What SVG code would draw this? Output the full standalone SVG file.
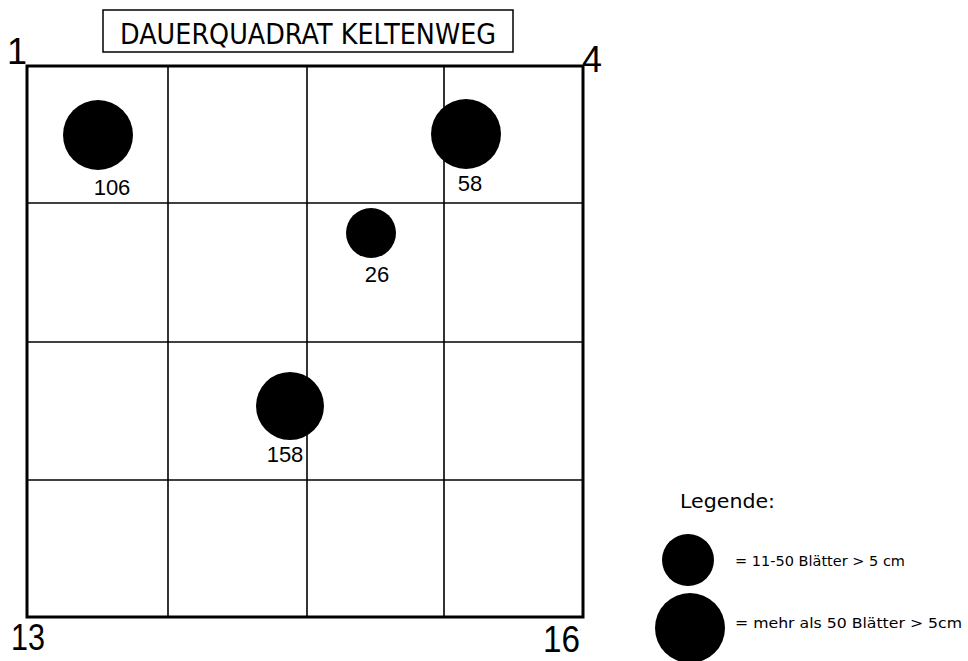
<svg xmlns="http://www.w3.org/2000/svg" width="968" height="661" viewBox="0 0 968 661">
<style>
.grid{stroke:#000;stroke-width:1.6;fill:none}
.frame{stroke:#000;stroke-width:3;fill:none}
.dot{fill:#000}
.num{font-family:"Liberation Sans",Arial,sans-serif;font-size:22px;fill:#000}
.corner{font-family:"Liberation Sans",Arial,sans-serif;font-size:36px;fill:#000}
.leg{font-family:"DejaVu Sans",sans-serif;font-size:14.5px;fill:#000}
</style>
<rect width="968" height="661" fill="#fff"/>
<g id="title">
<rect x="103" y="10" width="410" height="42" fill="#fff" stroke="#000" stroke-width="1.5"/>
<text x="308" y="44" text-anchor="middle" font-family="DejaVu Sans, sans-serif" font-size="29" textLength="376" lengthAdjust="spacingAndGlyphs">DAUERQUADRAT KELTENWEG</text>
</g>
<g id="connectors">
<line class="grid" x1="168" y1="66" x2="168" y2="617"/>
<line class="grid" x1="307" y1="66" x2="307" y2="617"/>
<line class="grid" x1="444" y1="66" x2="444" y2="617"/>
<line class="grid" x1="27" y1="203" x2="583" y2="203"/>
<line class="grid" x1="27" y1="342" x2="583" y2="342"/>
<line class="grid" x1="27" y1="480" x2="583" y2="480"/>
<rect class="frame" x="27" y="66" width="556" height="551"/>
</g>
<g id="corners">
<text class="corner" x="7" y="64">1</text>
<text class="corner" x="582" y="72" textLength="20" lengthAdjust="spacingAndGlyphs">4</text>
<text class="corner" x="11" y="650" textLength="34" lengthAdjust="spacingAndGlyphs">13</text>
<text class="corner" x="543" y="652" textLength="37" lengthAdjust="spacingAndGlyphs">16</text>
</g>
<g id="n106"><circle class="dot" cx="98" cy="135" r="35"/><text class="num" x="112" y="195" text-anchor="middle">106</text></g>
<g id="n58"><circle class="dot" cx="466" cy="134" r="35"/><text class="num" x="470" y="191" text-anchor="middle">58</text></g>
<g id="n26"><circle class="dot" cx="371" cy="233" r="25"/><text class="num" x="377" y="282" text-anchor="middle">26</text></g>
<g id="n158"><circle class="dot" cx="290" cy="406" r="34"/><text class="num" x="285" y="462" text-anchor="middle">158</text></g>
<g id="legend">
<text x="680" y="508" font-family="DejaVu Sans, sans-serif" font-size="19" textLength="95" lengthAdjust="spacingAndGlyphs">Legende:</text>
<circle class="dot" cx="688" cy="560" r="26"/>
<text class="leg" x="735" y="566" textLength="170" lengthAdjust="spacingAndGlyphs">= 11-50 Blätter &gt; 5 cm</text>
<circle class="dot" cx="690" cy="628" r="35"/>
<text class="leg" x="735" y="628" textLength="227" lengthAdjust="spacingAndGlyphs">= mehr als 50 Blätter &gt; 5cm</text>
</g>
</svg>
